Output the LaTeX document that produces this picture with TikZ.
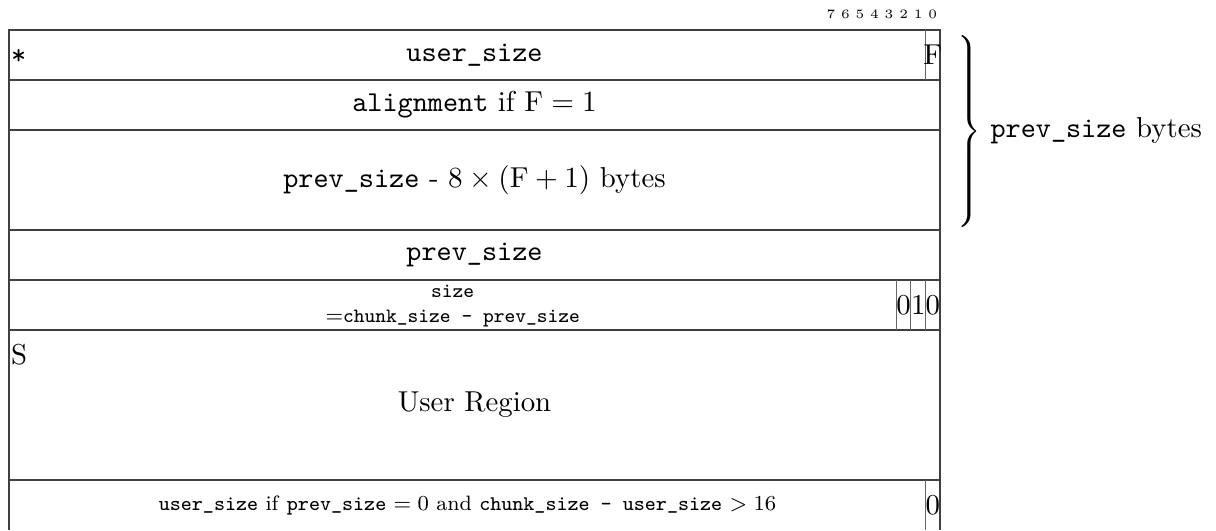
\documentclass[tikz,border=0pt]{standalone}
\usepackage{fontspec}
\begin{document}
\begin{tikzpicture}[x=0.375pt,y=-0.375pt,
  frame/.style={draw=black!75,line width=0.5pt},
  bitline/.style={draw=black!60,line width=0.4pt},
  main/.style={font=\fontsize{10.8}{13}\selectfont, inner sep=0pt},
  small/.style={font=\fontsize{7.6}{9.4}\selectfont, inner sep=0pt, align=center},
  foot/.style={font=\fontsize{7.8}{9.4}\selectfont, inner sep=0pt},
  bitlab/.style={font=\fontsize{4.8}{5.5}\selectfont, inner sep=0pt},
  corner/.style={font=\fontsize{10.8}{13}\selectfont, inner sep=0.6pt, anchor=west}]
\useasboundingbox (0,0) rectangle (1216,530);
% frame
\draw[frame] (9,530) -- (9,30) -- (940,30) -- (940,530);
\foreach \yy in {80,130,230,280,330,480}
  \draw[frame] (9,\yy) -- (940,\yy);
% bit cells
\draw[bitline] (925.5,30) -- (925.5,80);
\draw[bitline] (896.4,280) -- (896.4,330);
\draw[bitline] (910.9,280) -- (910.9,330);
\draw[bitline] (925.5,280) -- (925.5,330);
\draw[bitline] (925.5,480) -- (925.5,530);
% bit numbers
\foreach \i in {0,...,7}
  \node[bitlab] (bit\i) at ({940-(\i+0.5)*14.55},14) {\i};
% row 1
\node[corner] (star) at (9,57) {\texttt{*}};
\node[main] (usersize) at (474.5,55) {\texttt{user\_size}};
\node[main] (flag) at (932.7,55) {F};
% row 2
\node[main] (align) at (474.5,105) {\texttt{alignment} if $\mathrm{F}=1$};
% row 3
\node[main] (pad) at (474.5,180) {\texttt{prev\_size} - $8\times(\mathrm{F}+1)$ bytes};
% row 4
\node[main] (prevsize) at (474.5,255) {\texttt{prev\_size}};
% row 5
\node[small] (size) at (452.7,306) {\texttt{size}\\$=$\texttt{chunk\_size - prev\_size}};
\node[main] (b2) at (903.6,305) {0};
\node[main] (b1) at (918.2,305) {1};
\node[main] (b0) at (932.7,305) {0};
% row 6
\node[corner] (s) at (9,355) {S};
\node[main] (user) at (474.5,405) {User Region};
% row 7
\node[foot] (footer) at (467.5,505) {\texttt{user\_size} if \texttt{prev\_size} $=0$ and \texttt{chunk\_size - user\_size} $>16$};
\node[main] (fb0) at (932.7,505) {0};
% brace
\node[inner sep=0pt] (brace) at (968,131) {$\left.\vcenter{\hbox{\rule{0pt}{74pt}}}\right\}$};
\node[main, anchor=west] (bytes) at (brace.east) {\hspace{3pt}\texttt{prev\_size} bytes};
\end{tikzpicture}
\end{document}
